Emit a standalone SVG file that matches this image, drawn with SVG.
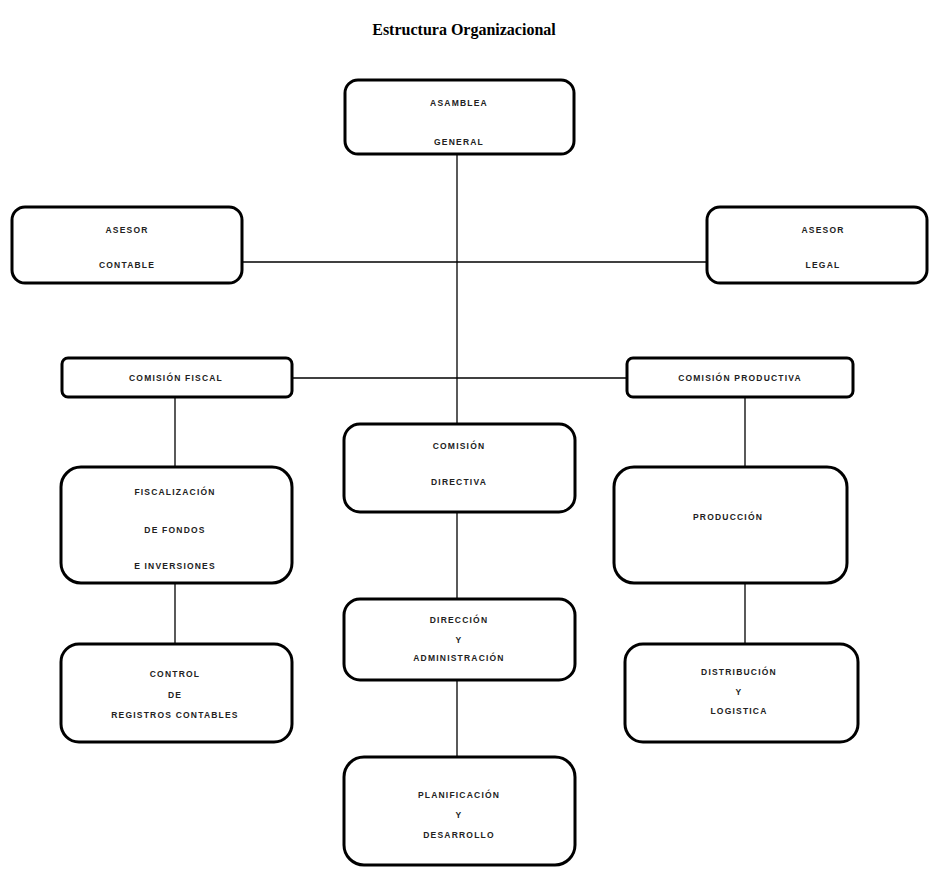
<svg xmlns="http://www.w3.org/2000/svg" width="929" height="870" viewBox="0 0 929 870">
  <style>
    .box { fill: #ffffff; stroke: #000000; stroke-width: 3; }
    .lbl { font-family: "Liberation Sans", Arial, sans-serif; font-size: 8.5px; font-weight: bold; fill: #222222; text-anchor: middle; letter-spacing: 1.2px; }
    .title { font-family: "Liberation Serif", "Times New Roman", serif; font-size: 16px; font-weight: bold; fill: #000000; text-anchor: middle; }
    .link { stroke: #000000; stroke-width: 1.3; fill: none; }
  </style>
  <rect width="929" height="870" fill="#ffffff"/>
  <text class="title" x="464" y="35">Estructura Organizacional</text>

  <!-- connectors -->
  <g id="connectors">
    <line class="link" x1="457" y1="153" x2="457" y2="424"/>
    <line class="link" x1="242" y1="262" x2="707" y2="262"/>
    <line class="link" x1="292" y1="378" x2="627" y2="378"/>
    <line class="link" x1="175" y1="397" x2="175" y2="467"/>
    <line class="link" x1="175" y1="583" x2="175" y2="644"/>
    <line class="link" x1="745" y1="397" x2="745" y2="467"/>
    <line class="link" x1="745" y1="583" x2="745" y2="644"/>
    <line class="link" x1="457" y1="512" x2="457" y2="599"/>
    <line class="link" x1="457" y1="680" x2="457" y2="757"/>
  </g>

  <g id="asamblea-general">
    <rect class="box" x="345" y="80" width="229" height="74" rx="13"/>
    <text class="lbl" x="459" y="106">ASAMBLEA</text>
    <text class="lbl" x="459" y="145">GENERAL</text>
  </g>

  <g id="asesor-contable">
    <rect class="box" x="12" y="207" width="230" height="76" rx="13"/>
    <text class="lbl" x="127" y="233">ASESOR</text>
    <text class="lbl" x="127" y="268">CONTABLE</text>
  </g>

  <g id="asesor-legal">
    <rect class="box" x="707" y="207" width="220" height="76" rx="13"/>
    <text class="lbl" x="823" y="233">ASESOR</text>
    <text class="lbl" x="823" y="268">LEGAL</text>
  </g>

  <g id="comision-fiscal">
    <rect class="box" x="62" y="358" width="230" height="39" rx="6"/>
    <text class="lbl" x="176" y="381">COMISIÓN FISCAL</text>
  </g>

  <g id="comision-productiva">
    <rect class="box" x="627" y="358" width="226" height="39" rx="6"/>
    <text class="lbl" x="740" y="381">COMISIÓN PRODUCTIVA</text>
  </g>

  <g id="comision-directiva">
    <rect class="box" x="344" y="424" width="231" height="88" rx="16"/>
    <text class="lbl" x="459" y="449">COMISIÓN</text>
    <text class="lbl" x="459" y="485">DIRECTIVA</text>
  </g>

  <g id="fiscalizacion">
    <rect class="box" x="61" y="467" width="231" height="116" rx="20"/>
    <text class="lbl" x="175" y="495">FISCALIZACIÓN</text>
    <text class="lbl" x="175" y="533">DE FONDOS</text>
    <text class="lbl" x="175" y="569">E INVERSIONES</text>
  </g>

  <g id="produccion">
    <rect class="box" x="614" y="467" width="233" height="116" rx="20"/>
    <text class="lbl" x="728" y="520">PRODUCCIÓN</text>
  </g>

  <g id="direccion-administracion">
    <rect class="box" x="344" y="599" width="231" height="81" rx="16"/>
    <text class="lbl" x="459" y="623">DIRECCIÓN</text>
    <text class="lbl" x="459" y="643">Y</text>
    <text class="lbl" x="459" y="661">ADMINISTRACIÓN</text>
  </g>

  <g id="control-registros">
    <rect class="box" x="61" y="644" width="231" height="98" rx="18"/>
    <text class="lbl" x="175" y="677">CONTROL</text>
    <text class="lbl" x="175" y="698">DE</text>
    <text class="lbl" x="175" y="718">REGISTROS CONTABLES</text>
  </g>

  <g id="distribucion-logistica">
    <rect class="box" x="625" y="644" width="233" height="98" rx="18"/>
    <text class="lbl" x="739" y="675">DISTRIBUCIÓN</text>
    <text class="lbl" x="739" y="695">Y</text>
    <text class="lbl" x="739" y="714">LOGISTICA</text>
  </g>

  <g id="planificacion-desarrollo">
    <rect class="box" x="344" y="757" width="231" height="108" rx="20"/>
    <text class="lbl" x="459" y="798">PLANIFICACIÓN</text>
    <text class="lbl" x="459" y="818">Y</text>
    <text class="lbl" x="459" y="838">DESARROLLO</text>
  </g>
</svg>
